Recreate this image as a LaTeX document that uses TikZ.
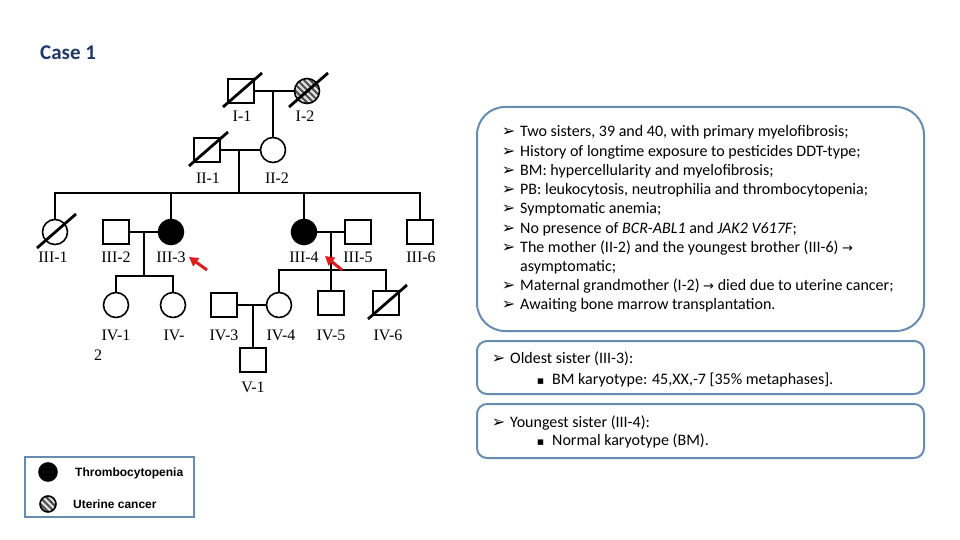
\documentclass[tikz,border=0pt]{standalone}
\usepackage{fontspec}
\setmainfont{Carlito}
\newfontfamily\pedfont{Liberation Serif}
\newfontfamily\legfont{Liberation Sans}
\newfontfamily\symfont{DejaVu Sans}
\usepackage{xcolor}
\definecolor{casenavy}{RGB}{31,56,100}
\definecolor{boxblue}{RGB}{104,140,176}
\definecolor{arrowred}{RGB}{222,28,28}
\usetikzlibrary{arrows.meta, patterns.meta}
\newcommand{\arrbul}{{\symfont\fontsize{16}{16}\selectfont ➢}}
\newcommand{\sqbul}{{\symfont\fontsize{11}{11}\selectfont ▪}}
\newcommand{\rarr}{{\symfont\fontsize{13}{13}\selectfont →}}
\newcommand{\deceased}[1]{\draw[slash] ([shift={(-18,16)}]#1.center) -- ([shift={(21,-18)}]#1.center);}
\tikzset{
  pedline/.style={line width=2pt},
  male/.style={draw, line width=1.6pt, rectangle, minimum width=26pt, minimum height=24pt, inner sep=0pt, fill=white},
  female/.style={draw, line width=1.6pt, circle, minimum size=25pt, inner sep=0pt, fill=white},
  affected/.style={fill=black},
  hatched/.style={preaction={fill=gray!25}, pattern={Lines[angle=-45,distance=4.5pt,line width=2pt]}, pattern color=black!70},
  slash/.style={line width=2.8pt},
  pedlabel/.style={font=\pedfont\fontsize{16}{16}\selectfont, anchor=base, inner sep=0pt},
  sumtext/.style={font=\fontsize{16}{18}\selectfont, anchor=base west, inner sep=0pt},
  legtext/.style={font=\legfont\bfseries\fontsize{12}{12}\selectfont, anchor=base west, inner sep=0pt},
  infobox/.style={draw=boxblue, line width=2pt},
  pointer/.style={-{Triangle[length=9pt,width=10pt]}, line width=3pt, arrowred}
}

\begin{document}
\begin{tikzpicture}[x=1pt, y=-1pt]
  \useasboundingbox (0,0) rectangle (960,540);

  % Title
  \node[font=\bfseries\fontsize{21}{21}\selectfont, casenavy, anchor=base west, inner sep=0pt] (title) at (40,60) {Case 1};

  % Generation I
  \node[male] (I1) at (241,91) {};
  \node[female, hatched] (I2) at (307,91) {};
  \coordinate (m1) at (273,91);
  \draw[pedline] (I1) -- (I2);
  \node[pedlabel] (lI1) at (242,122) {I-1};
  \node[pedlabel] (lI2) at (305,122) {I-2};

  % Generation II
  \node[male] (II1) at (207,150) {};
  \node[female] (II2) at (273,150) {};
  \coordinate (m2) at (239,150);
  \coordinate (s2) at (239,193);
  \draw[pedline] (m1) -- (II2);
  \draw[pedline] (II1) -- (II2);
  \draw[pedline] (m2) -- (s2);
  \node[pedlabel] (lII1) at (208,183) {II-1};
  \node[pedlabel] (lII2) at (277,183) {II-2};

  % Generation III
  \node[female] (III1) at (55,232) {};
  \node[male] (III2) at (116,232) {};
  \node[female, affected] (III3) at (171,232) {};
  \node[female, affected] (III4) at (304,232) {};
  \node[male] (III5) at (358,232) {};
  \node[male] (III6) at (420,232) {};
  \draw[pedline] (III1) -- (III1 |- s2) -- (III6 |- s2) -- (III6);
  \draw[pedline] (III3 |- s2) -- (III3);
  \draw[pedline] (III4 |- s2) -- (III4);
  \node[pedlabel] (lIII1) at (53,262) {III-1};
  \node[pedlabel] (lIII2) at (116,262) {III-2};
  \node[pedlabel] (lIII3) at (171,262) {III-3};
  \node[pedlabel] (lIII4) at (304,262) {III-4};
  \node[pedlabel] (lIII5) at (358,262) {III-5};
  \node[pedlabel] (lIII6) at (421,262) {III-6};

  % Generation IV
  \node[female] (IV1) at (116,305) {};
  \node[female] (IV2) at (173,305) {};
  \node[male] (IV3) at (224,305) {};
  \node[female] (IV4) at (279,305) {};
  \node[male] (IV5) at (331,303) {};
  \node[male] (IV6) at (386,303) {};
  \coordinate (m3) at (144,232);
  \coordinate (s3) at (144,276);
  \coordinate (m4) at (331,232);
  \coordinate (s4) at (331,270);
  \draw[pedline] (III2) -- (III3);
  \draw[pedline] (m3) -- (s3);
  \draw[pedline] (IV1) -- (IV1 |- s3) -- (IV2 |- s3) -- (IV2);
  \draw[pedline] (III4) -- (III5);
  \draw[pedline] (m4) -- (IV5);
  \draw[pedline] (IV4) -- (IV4 |- s4) -- (IV6 |- s4) -- (IV6);
  \node[pedlabel] (lIV1) at (116,340) {IV-1};
  \node[pedlabel] (lIV1b) at (98,360) {2};
  \node[pedlabel] (lIV2) at (174,340) {IV-};
  \node[pedlabel] (lIV3) at (224,340) {IV-3};
  \node[pedlabel] (lIV4) at (281,340) {IV-4};
  \node[pedlabel] (lIV5) at (331,340) {IV-5};
  \node[pedlabel] (lIV6) at (388,340) {IV-6};

  % Generation V
  \node[male] (V1) at (253,360) {};
  \coordinate (m5) at (253,305);
  \draw[pedline] (IV3) -- (IV4);
  \draw[pedline] (m5) -- (V1);
  \node[pedlabel] (lV1) at (253,392) {V-1};

  % deceased
  \deceased{I1}
  \deceased{I2}
  \deceased{II1}
  \deceased{III1}
  \deceased{IV6}

  % probands
  \coordinate (p3) at (207,270);
  \coordinate (p3tip) at (189,257);
  \coordinate (p4) at (342,270);
  \coordinate (p4tip) at (325,256);
  \draw[pointer] (p3) -- (p3tip);
  \draw[pointer] (p4) -- (p4tip);

  % Clinical summary
  \draw[infobox, rounded corners=28pt] (477,107) rectangle (924,331);
  \node[sumtext] (sum1) at (520,137) {\llap{\arrbul\hspace{5pt}}Two sisters, 39 and 40, with primary myelofibrosis;};
  \node[sumtext] (sum2) at (520,156.2) {\llap{\arrbul\hspace{5pt}}History of longtime exposure to pesticides DDT-type;};
  \node[sumtext] (sum3) at (520,175.4) {\llap{\arrbul\hspace{5pt}}BM: hypercellularity and myelofibrosis;};
  \node[sumtext] (sum4) at (520,194.6) {\llap{\arrbul\hspace{5pt}}PB: leukocytosis, neutrophilia and thrombocytopenia;};
  \node[sumtext] (sum5) at (520,213.8) {\llap{\arrbul\hspace{5pt}}Symptomatic anemia;};
  \node[sumtext] (sum6) at (520,233) {\llap{\arrbul\hspace{5pt}}No presence of \textit{BCR-ABL1} and \textit{JAK2 V617F};};
  \node[sumtext] (sum7) at (520,252.2) {\llap{\arrbul\hspace{5pt}}The mother (II-2) and the youngest brother (III-6) \rarr};
  \node[sumtext] (sum7b) at (520,271.4) {asymptomatic;};
  \node[sumtext] (sum8) at (520,290.6) {\llap{\arrbul\hspace{5pt}}Maternal grandmother (I-2) \rarr{} died due to uterine cancer;};
  \node[sumtext] (sum9) at (520,309.8) {\llap{\arrbul\hspace{5pt}}Awaiting bone marrow transplantation.};

  % Karyotypes
  \draw[infobox, rounded corners=10pt] (477,341) rectangle (924,394);
  \node[sumtext] (old1) at (510,363) {\llap{\arrbul\hspace{5pt}}Oldest sister (III-3):};
  \node[sumtext] (old2) at (552,384) {\llap{\sqbul\hspace{8pt}}BM karyotype: 45,XX,-7 [35\% metaphases].};
  \draw[infobox, rounded corners=10pt] (477,404) rectangle (924,458);
  \node[sumtext] (young1) at (510,427) {\llap{\arrbul\hspace{5pt}}Youngest sister (III-4):};
  \node[sumtext] (young2) at (552,445) {\llap{\sqbul\hspace{8pt}}Normal karyotype (BM).};

  % Legend
  \draw[infobox] (25,457) rectangle (194,517);
  \node[female, affected, minimum size=18pt] (lg1) at (48,472) {};
  \node[female, hatched, minimum size=16pt] (lg2) at (48,504) {};
  \node[legtext] (lgt1) at (75,476.5) {Thrombocytopenia};
  \node[legtext] (lgt2) at (73,508.5) {Uterine cancer};
\end{tikzpicture}
\end{document}
